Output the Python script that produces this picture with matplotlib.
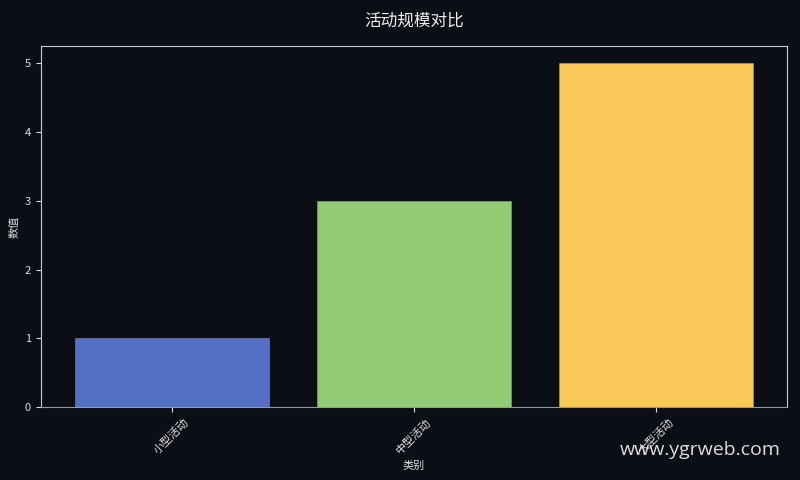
import matplotlib
matplotlib.use("Agg")
import matplotlib.pyplot as plt

plt.rcParams['font.family'] = ['Noto Sans CJK SC', 'DejaVu Sans']

categories = ["小型活动", "中型活动", "大型活动"]
values = [1, 3, 5]
colors = ["#5470c6", "#91cc75", "#fac858"]

bg = "#0b0e14"
fig, ax = plt.subplots(figsize=(8, 4.8), dpi=100)
fig.patch.set_facecolor(bg)
ax.set_facecolor(bg)

ax.bar(range(len(categories)), values, width=0.8, color=colors,
       edgecolor=(1, 1, 1, 0.25), linewidth=0.6)
ax.set_xticks(range(len(categories)))
ax.set_xticklabels(categories, rotation=45, color="#dddddd", fontsize=8)
ax.tick_params(axis='y', colors="#dddddd", labelsize=8)
ax.tick_params(axis='x', colors="#dddddd")
for s in ax.spines.values():
    s.set_color("#cccccc")
ax.spines['bottom'].set_color("#999999")

ax.set_xlabel("类别", color="#dddddd", fontsize=8)
ax.set_ylabel("数值", color="#dddddd", fontsize=8)
ax.set_title("活动规模对比", color="#eeeeee", fontsize=12, pad=15)

fig.subplots_adjust(left=0.051, right=0.984, top=0.904, bottom=0.152)
fig.text(0.976, 0.063, "www.ygrweb.com", color="#dddddd", fontsize=14,
         ha="right", va="center", family=["Open Sans", "DejaVu Sans"])

fig.savefig("out.png", facecolor=bg)
